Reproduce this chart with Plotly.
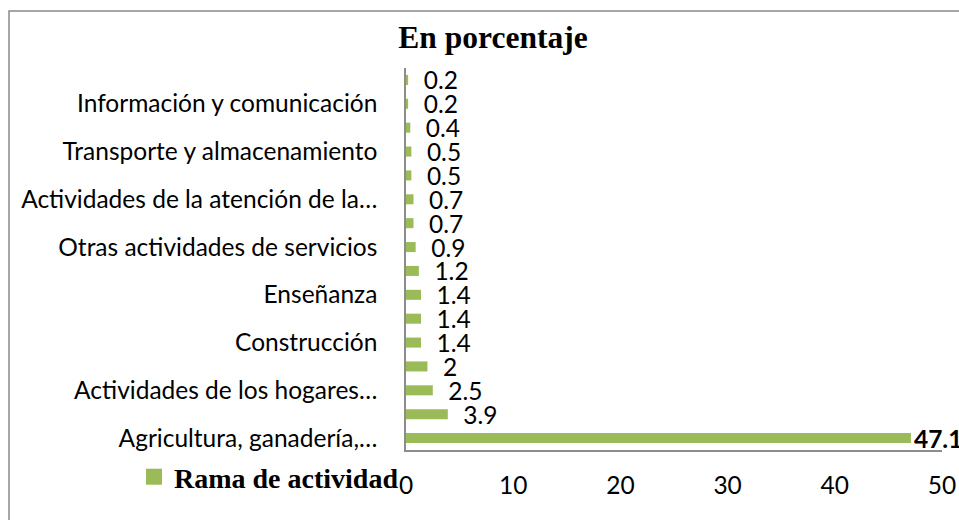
import plotly.graph_objects as go

# Data (bottom to top, as drawn)
values = [47.1, 3.9, 2.5, 2, 1.4, 1.4, 1.4, 1.2, 0.9, 0.7, 0.7, 0.5, 0.5, 0.4, 0.2, 0.2]
# Only every other category label is visible in the chart
visible_labels = [
    "Agricultura, ganadería,…",
    "Actividades de los hogares…",
    "Construcción",
    "Enseñanza",
    "Otras actividades de servicios",
    "Actividades de la atención de la…",
    "Transporte y almacenamiento",
    "Información y comunicación",
]
x_ticks = [0, 10, 20, 30, 40, 50]
series_name = "Rama de actividad"
title_text = "En porcentaje"

positions = list(range(len(values)))
label_positions = positions[::2]
vmax = max(values)
texts = [f"<b>{v:g}</b>" if v == vmax else "\u00a0\u00a0" + f"{v:g}" for v in values]

W, H = 959, 520
L, R, T, B = 406, 17, 68, 70
pw, ph = W - L - R, H - T - B

sans = "Lato, Calibri, Carlito, sans-serif"
serif = "Liberation Serif, Times New Roman, serif"
FS = 24.5
GREEN = "#9BBB59"

fig = go.Figure()
fig.add_trace(go.Bar(
    x=values, y=positions, orientation="h",
    name=series_name,
    marker=dict(color=GREEN, line=dict(width=0)),
    text=texts, textposition="outside", textangle=0,
    constraintext="none", cliponaxis=False,
    textfont=dict(family=sans, size=FS, color="#000000"),
    showlegend=False,
))
# legend entry for the series (square swatch, as in the original)
fig.add_trace(go.Scatter(
    x=[None], y=[None], mode="markers", name=f"<b>{series_name}</b>",
    marker=dict(symbol="square", size=16, color=GREEN), showlegend=True,
))

fig.update_layout(
    width=W, height=H,
    margin=dict(l=L, r=R, t=T, b=B, pad=0, autoexpand=False),
    paper_bgcolor="white", plot_bgcolor="white",
    bargap=0.58,
    title=dict(text=f"<b>{title_text}</b>", x=493 / W, xref="container", xanchor="center",
               y=1 - 37 / H, yref="container", yanchor="middle",
               font=dict(family=serif, size=31.5, color="#000000")),
    showlegend=True,
    legend=dict(x=404 / W, xref="container", xanchor="right",
                y=1 - 477 / H, yref="container", yanchor="middle",
                orientation="h", bgcolor="rgba(0,0,0,0)",
                font=dict(family=serif, size=28, color="#000000"),
                itemwidth=30, tracegroupgap=0, itemsizing="trace"),
    xaxis=dict(range=[0, 50], tickvals=x_ticks, ticktext=[str(t) for t in x_ticks],
               showgrid=False, zeroline=False, showline=True, linecolor="#8c8c8c", linewidth=1.5,
               ticks="", ticklabelstandoff=13, automargin=False,
               tickfont=dict(family=sans, size=FS, color="#000000"), fixedrange=True),
    yaxis=dict(range=[-0.5, len(values) - 0.5], tickvals=label_positions, ticktext=visible_labels,
               showgrid=False, zeroline=False, showline=True, linecolor="#8c8c8c", linewidth=1.5,
               ticks="", ticklabelstandoff=22, automargin=False,
               tickfont=dict(family=sans, size=FS, color="#000000"), fixedrange=True),
    shapes=[dict(type="rect", xref="paper", yref="paper",
                 x0=(9 - L) / pw, x1=(975 - L) / pw,
                 y0=(H - B - 535) / ph, y1=(H - B - 11) / ph,
                 line=dict(color="#898989", width=1.5), fillcolor="rgba(0,0,0,0)", layer="below")],
)

fig.write_html(
    "out.html",
    config={"displayModeBar": False},
    post_script="document.body.style.margin='0';document.body.style.overflow='hidden';",
)
